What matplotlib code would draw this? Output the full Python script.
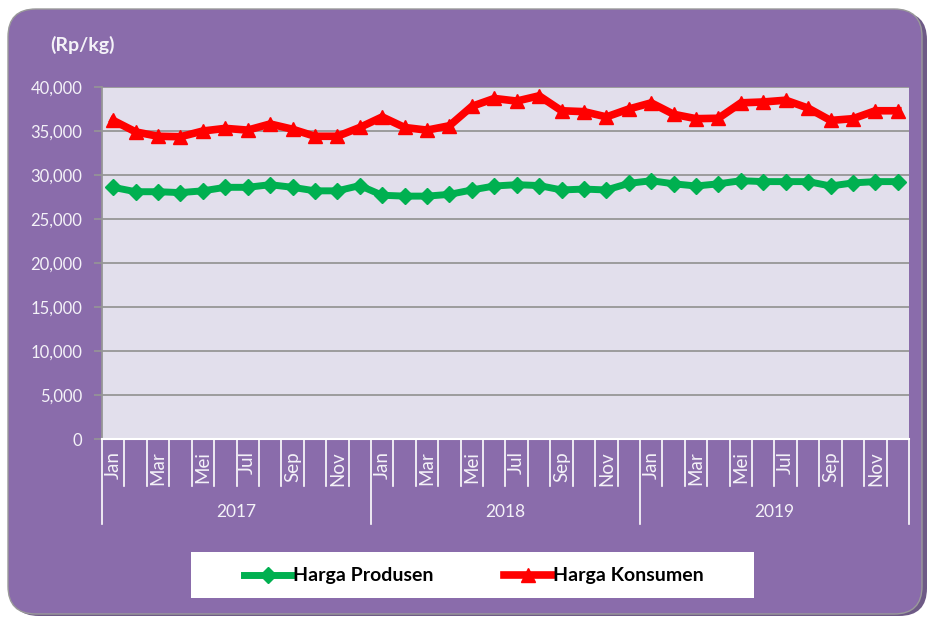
import matplotlib
matplotlib.use('Agg')
import matplotlib.pyplot as plt
from matplotlib.patches import FancyBboxPatch, Rectangle
from matplotlib.lines import Line2D
from matplotlib.ticker import FuncFormatter

plt.rcParams['font.family'] = ['Lato', 'DejaVu Sans']

# data (Rp/kg), Jan 2017 - Des 2019
years = ['2017', '2018', '2019']
month_labels = ['Jan', '', 'Mar', '', 'Mei', '', 'Jul', '', 'Sep', '', 'Nov', '']
harga_produsen = [28600, 28100, 28100, 28000, 28200, 28600, 28600, 28900, 28600, 28200, 28200, 28800,
                  27700, 27600, 27600, 27800, 28300, 28750, 28900, 28800, 28300, 28400, 28300, 29050,
                  29350, 29000, 28750, 29000, 29350, 29250, 29250, 29250, 28750, 29100, 29250, 29250]
harga_konsumen = [36200, 34900, 34400, 34350, 35000, 35300, 35100, 35800, 35200, 34400, 34400, 35400,
                  36600, 35400, 35100, 35600, 37800, 38700, 38400, 39000, 37300, 37200, 36600, 37500,
                  38200, 36900, 36400, 36450, 38200, 38300, 38500, 37600, 36200, 36400, 37300, 37300]

ungu = '#8A6CAB'
putih = '#F4F2F8'

fig = plt.figure(figsize=(9.27, 6.19), dpi=100)
fig.patch.set_facecolor('white')

# bingkai ungu
bayangan = FancyBboxPatch((11 / 927, 3 / 619), 916 / 927, 604 / 619,
                          boxstyle='round,pad=0,rounding_size=0.03', transform=fig.transFigure,
                          facecolor='#6E5A86', edgecolor='none', zorder=0, mutation_aspect=927 / 619)
fig.patches.append(bayangan)
bingkai = FancyBboxPatch((8 / 927, 5 / 619), 914 / 927, 605 / 619,
                         boxstyle='round,pad=0,rounding_size=0.03', transform=fig.transFigure,
                         facecolor=ungu, edgecolor='#9A9A9A', linewidth=1, zorder=1,
                         mutation_aspect=927 / 619)
fig.patches.append(bingkai)

ax = fig.add_axes([102 / 927, 1 - 439 / 619, 807 / 927, 352 / 619])
ax.set_facecolor('#E2DFEC')
ax.set_zorder(2)

n = len(harga_produsen)
x = [i + 0.5 for i in range(n)]
ax.plot(x, harga_produsen, color='#00B050', linewidth=5, marker='D', markersize=8.5,
        label='Harga Produsen', zorder=3)
ax.plot(x, harga_konsumen, color='#FF0000', linewidth=5.5, marker='^', markersize=10.5,
        label='Harga Konsumen', zorder=4)

ax.set_xlim(0, n)
ax.set_ylim(0, 40000)
ax.set_yticks(range(0, 40001, 5000))
ax.yaxis.set_major_formatter(FuncFormatter(lambda v, p: f'{int(v):,}'))
ax.yaxis.grid(True, color='#969696', linewidth=1.3)
ax.set_axisbelow(True)
ax.tick_params(axis='y', colors='#969696', labelcolor=putih, labelsize=12, length=6, width=1.2, pad=8)
ax.set_xticks([])
for s in ['top', 'right']:
    ax.spines[s].set_visible(False)
ax.spines['left'].set_color('#969696')
ax.spines['left'].set_linewidth(1.3)
ax.spines['bottom'].set_color('white')
ax.spines['bottom'].set_linewidth(1.5)

# sumbu kategori dua tingkat
tr = ax.get_xaxis_transform()
for k in range(n + 1):
    ujung = -0.2415 if k % 12 == 0 else -0.1335
    ax.add_line(Line2D([k, k], [0, ujung], transform=tr, color='white', linewidth=1.2, clip_on=False))
for j, th in enumerate(years):
    for m, lab in enumerate(month_labels):
        if lab:
            ax.text(j * 12 + m + 0.5, -0.034, lab, transform=tr, rotation=90, ha='center', va='top',
                    color=putih, fontsize=13.5)
    ax.text(j * 12 + 6, -0.207, th, transform=tr, ha='center', va='center', color=putih, fontsize=12.5)

fig.text(50 / 927, 1 - 45 / 619, '(Rp/kg)', color=putih, fontsize=14, fontweight='bold',
         ha='left', va='center')

# legenda
kotak = Rectangle((191 / 927, 1 - 598 / 619), 563 / 927, 46 / 619, transform=fig.transFigure,
                  facecolor='white', edgecolor='none', zorder=3)
fig.patches.append(kotak)
leg = fig.legend(loc='center', bbox_to_anchor=(474 / 927, 1 - 576 / 619), ncol=2, frameon=False,
                 prop={'weight': 'bold', 'size': 14}, handlelength=2.5, handletextpad=0.05,
                 columnspacing=3.6, markerscale=0.9)
leg.set_zorder(5)

fig.savefig('out.png', dpi=100)
plt.close()
